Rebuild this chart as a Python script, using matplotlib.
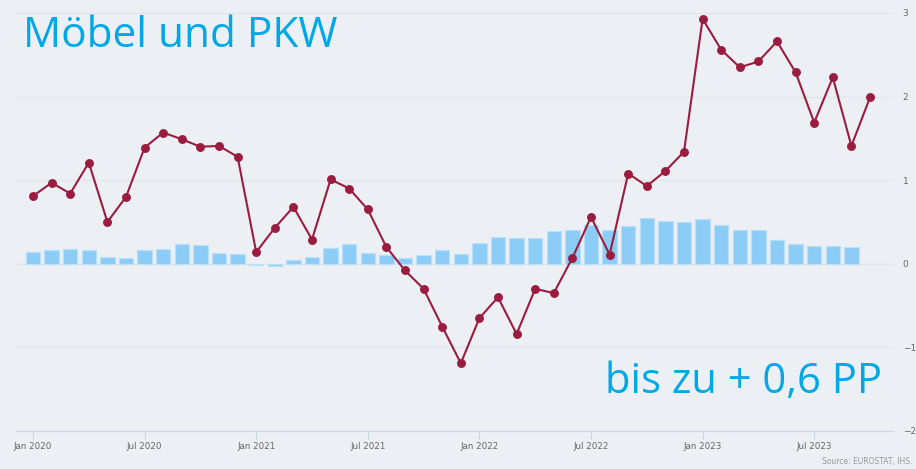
import matplotlib.pyplot as plt
import numpy as np

# monthly values Jan 2020 - Oct 2023
months = ['Jan 2020', 'Feb 2020', 'Mar 2020', 'Apr 2020', 'May 2020', 'Jun 2020',
          'Jul 2020', 'Aug 2020', 'Sep 2020', 'Oct 2020', 'Nov 2020', 'Dec 2020',
          'Jan 2021', 'Feb 2021', 'Mar 2021', 'Apr 2021', 'May 2021', 'Jun 2021',
          'Jul 2021', 'Aug 2021', 'Sep 2021', 'Oct 2021', 'Nov 2021', 'Dec 2021',
          'Jan 2022', 'Feb 2022', 'Mar 2022', 'Apr 2022', 'May 2022', 'Jun 2022',
          'Jul 2022', 'Aug 2022', 'Sep 2022', 'Oct 2022', 'Nov 2022', 'Dec 2022',
          'Jan 2023', 'Feb 2023', 'Mar 2023', 'Apr 2023', 'May 2023', 'Jun 2023',
          'Jul 2023', 'Aug 2023', 'Sep 2023', 'Oct 2023']

line_values = [0.81, 0.97, 0.84, 1.21, 0.50, 0.80, 1.39, 1.57, 1.49, 1.40, 1.41, 1.28,
               0.14, 0.43, 0.68, 0.29, 1.01, 0.90, 0.65, 0.20, -0.08, -0.30, -0.75, -1.19,
               -0.65, -0.40, -0.84, -0.30, -0.35, 0.07, 0.56, 0.11, 1.08, 0.93, 1.11, 1.34,
               2.93, 2.56, 2.35, 2.42, 2.66, 2.29, 1.69, 2.23, 1.41, 1.99]

# contribution bars (Jan 2020 - Sep 2023)
bar_values = [0.14, 0.17, 0.18, 0.16, 0.08, 0.07, 0.17, 0.18, 0.24, 0.22, 0.13, 0.12,
              -0.01, -0.03, 0.04, 0.08, 0.19, 0.24, 0.13, 0.10, 0.07, 0.11, 0.17, 0.12,
              0.25, 0.32, 0.31, 0.31, 0.39, 0.41, 0.46, 0.41, 0.455, 0.55, 0.51, 0.50,
              0.535, 0.47, 0.40, 0.40, 0.29, 0.24, 0.21, 0.21, 0.20]

tick_labels = ['Jan 2020', 'Jul 2020', 'Jan 2021', 'Jul 2021',
               'Jan 2022', 'Jul 2022', 'Jan 2023', 'Jul 2023']
y_ticks = [-2, -1, 0, 1, 2, 3]

bg = '#eceff3'
fig = plt.figure(figsize=(9.16, 4.69), dpi=100, facecolor=bg)
ax = fig.add_axes([16 / 916, 1 - 431 / 469, (893 - 16) / 916, (431 - 13) / 469])
ax.set_facecolor(bg)

x_line = np.arange(len(line_values))
x_bar = np.arange(len(bar_values))

ax.bar(x_bar, bar_values, width=0.78, color='#8ccdf8', edgecolor='#b8e0fa',
       linewidth=0.8, zorder=2)
ax.plot(x_line, line_values, color='#9a1d3f', linewidth=1.5, marker='o',
        markersize=5.4, zorder=3)

ax.set_ylim(-2, 3)
ax.set_xlim((16 - 33) / 18.6, (893 - 33) / 18.6)

for y in y_ticks[1:]:
    ax.axhline(y, color='#e2e5ea', linewidth=0.9, zorder=1)

for s in ['top', 'right', 'left']:
    ax.spines[s].set_visible(False)
ax.spines['bottom'].set_color('#ccd6eb')
ax.spines['bottom'].set_linewidth(0.8)

ax.set_xticks([months.index(t) for t in tick_labels])
ax.set_xticklabels(tick_labels)
ax.tick_params(axis='x', colors='#ccd6eb', length=6, width=0.8, labelsize=6.3,
               labelcolor='#666666', pad=2)

ax.yaxis.tick_right()
ax.set_yticks(y_ticks)
ax.set_yticklabels([str(v).replace('-', '\u2212') for v in y_ticks])
ax.tick_params(axis='y', length=0, labelsize=6.5, labelcolor='#666666', pad=7)

fig.text(23 / 916, 1 - 47 / 469, 'Möbel und PKW', color='#00a8e8', fontsize=30.5,
         family='Open Sans', ha='left', va='baseline')
fig.text(882 / 916, 1 - 393 / 469, 'bis zu + 0,6 PP', color='#00a8e8', fontsize=30,
         family='Open Sans', ha='right', va='baseline')
fig.text(912 / 916, 1 - 464 / 469, 'Source: EUROSTAT, IHS.', color='#999999',
         fontsize=5.5, ha='right', va='baseline')

fig.savefig('out.png', dpi=100, facecolor=bg)
